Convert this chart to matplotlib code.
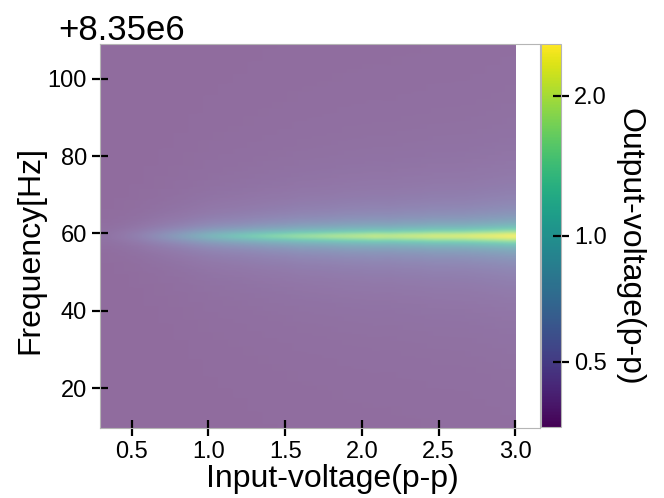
import numpy as np
import matplotlib.pyplot as plt
from matplotlib import colors, ticker, cm

plt.rcParams['font.family'] = ['Liberation Sans', 'DejaVu Sans']

# input drive voltage (p-p), one column per step
input_voltage = np.round(np.arange(0.3, 3.01, 0.1), 2)
# peak output voltage (p-p) at resonance for each input voltage
peak_output = [0.43, 0.44, 0.46, 0.50, 0.56, 0.64, 0.75, 0.88, 1.00, 1.12,
               1.24, 1.36, 1.46, 1.55, 1.62, 1.70, 1.76, 1.82, 1.90, 1.88,
               1.93, 1.98, 2.04, 2.06, 2.10, 2.16, 2.22, 2.30]
# half width of the resonance line [Hz]
peak_hwhm = [2.0, 2.0, 1.9, 1.8, 1.7, 1.6, 1.55, 1.5, 1.45, 1.4,
             1.4, 1.4, 1.4, 1.45, 1.45, 1.45, 1.5, 1.5, 1.5, 1.5,
             1.55, 1.55, 1.6, 1.6, 1.6, 1.65, 1.7, 1.75]
background = 0.42
f_offset = 8.35e6
f_center = 59.2
freq = f_offset + np.arange(9.5, 109.51, 0.25)

amp = np.array(peak_output)[None, :]
hw = np.array(peak_hwhm)[None, :]
out = background + (amp - background) / (1 + ((freq[:, None] - f_offset - f_center) / hw) ** 2)

fig = plt.figure(figsize=(6.64, 4.98), dpi=100)
ax = fig.add_axes([0.1506, 0.1406, 0.6627, 0.7711])
norm = colors.PowerNorm(gamma=0.55, vmin=0.417, vmax=2.48)
ax.imshow(out, origin='lower', aspect='auto', interpolation='bilinear',
          extent=(input_voltage[0] - 0.006, input_voltage[-1], freq[0], freq[-1]),
          cmap='viridis', norm=norm, alpha=0.6)

ax.set_xlim(0.294, 3.16)
ax.set_ylim(f_offset + 9.7, f_offset + 109)
ax.set_xticks([0.5, 1.0, 1.5, 2.0, 2.5, 3.0])
ax.set_yticks(f_offset + np.array([20, 40, 60, 80, 100]))
ax.yaxis.set_major_formatter(ticker.ScalarFormatter(useOffset=f_offset))
ax.tick_params(direction='inout', length=12, width=1.6, labelsize=17, colors='black')
for s in ax.spines.values():
    s.set_color('#b5b5b5')
ax.yaxis.get_offset_text().set_fontsize(25)
ax.yaxis.get_offset_text().set_x(-0.095)

ax.set_xlabel('Input-voltage(p-p)', fontsize=23)
ax.set_ylabel('Frequency[Hz]', fontsize=23)
ax.xaxis.set_label_coords(0.527, -0.095)
ax.yaxis.set_label_coords(-0.125, 0.464)

cax = fig.add_axes([0.8148, 0.1426, 0.0301, 0.769])
sm = cm.ScalarMappable(norm=norm, cmap='viridis')
cb = fig.colorbar(sm, cax=cax)
cb.set_ticks([0.5, 1.0, 2.0])
cb.ax.yaxis.set_major_formatter(ticker.FormatStrFormatter('%.1f'))
cb.ax.tick_params(direction='inout', length=12, width=1.6, labelsize=17)
cb.outline.set_edgecolor('#b5b5b5')
cb.set_label('Output-voltage(p-p)', fontsize=23, rotation=270)
cb.ax.yaxis.set_label_coords(5.2, 0.47)

fig.savefig('out.png', dpi=100)
